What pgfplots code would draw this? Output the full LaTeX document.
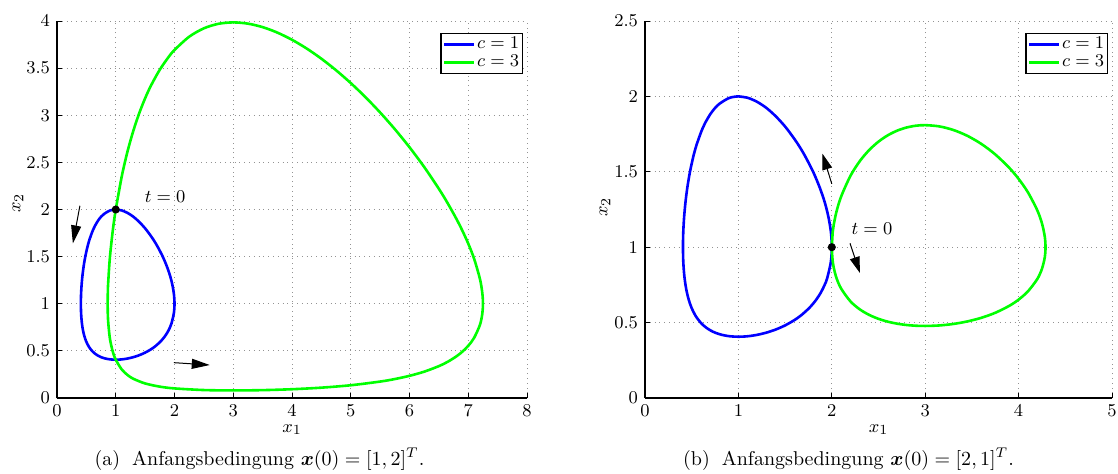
\documentclass[border=0pt]{standalone}
\usepackage{pgfplots}
\pgfplotsset{compat=1.18}
\usepackage{bm}
\usetikzlibrary{arrows.meta}
\definecolor{cblue}{RGB}{0,0,255}
\definecolor{cgreen}{RGB}{0,255,0}
\pgfplotstableread{
x y
1 2
1.1 1.9906
1.2 1.964
1.3 1.9234
1.4 1.868
1.5 1.8002
1.6 1.7175
1.6606 1.6606
1.7175 1.6
1.8002 1.5
1.868 1.4
1.9234 1.3
1.964 1.2
1.9906 1.1
2 1
1.9892 0.9
1.95 0.7934
1.9233 0.75
1.8832 0.7
1.8309 0.65
1.7631 0.6
1.6747 0.55
1.6 0.5168
1.5 0.4815
1.4 0.4542
1.3 0.4336
1.2 0.4188
1.1 0.4096
1 0.4064
0.9 0.4101
0.816 0.42
0.75 0.4336
0.7 0.4486
0.65 0.4691
0.6 0.4971
0.5432 0.5432
0.4971 0.6
0.4691 0.65
0.4486 0.7
0.4336 0.75
0.42 0.816
0.4101 0.9
0.4064 1
0.4096 1.1
0.4188 1.2
0.4336 1.3
0.4542 1.4
0.4815 1.5
0.5168 1.6
0.55 1.6747
0.6 1.7631
0.6256 1.8
0.65 1.8309
0.7 1.8832
0.75 1.9233
0.8 1.9525
0.9 1.9892
1 2
1.1 1.9906
}\blueorbit
\pgfplotsset{
  phase/.style={
    scale only axis, height=188.5pt,
    axis x line=bottom, axis y line=left,
    axis line style={-, black, line width=0.6pt},
    tick align=inside, major tick length=2.5pt,
    tick style={black, line width=0.5pt},
    grid=major, grid style={dotted, gray!85, line width=0.5pt},
    font=\fontsize{9.5}{10}\selectfont,
    legend style={anchor=north east, at={(axis description cs:0.992,0.968)},
      draw=black, line width=0.6pt, inner sep=1pt, row sep=0pt,
      nodes={inner sep=0.8pt},
      font=\fontsize{9.5}{10}\selectfont, fill=white},
    legend cell align=left,
    legend image code/.code={\draw[#1] (0pt,0pt) -- (15pt,0pt);},
    xlabel={$x_1$}, ylabel={$x_2$},
    x label style={at={(axis description cs:0.5,-0.084)}, anchor=center},
  },
  orbit/.style={line width=1.3pt, smooth, no marks},
}
\tikzset{arr/.style={line width=0.5pt, black, -{Triangle[length=#1, width=5pt]}}}
\begin{document}
\begin{tikzpicture}
\path[use as bounding box] (-28.5pt,-37.5pt) rectangle (530.5pt,199pt);

% ---------- left ----------
\begin{axis}[phase, at={(0pt,0pt)}, width=235pt,
  xmin=0, xmax=8, ymin=0, ymax=4,
  xtick={0,1,...,8}, ytick={0,0.5,...,4},
  y label style={at={(axis description cs:-0.083,0.517)}, anchor=center}]
\addplot[orbit, cblue] table[x=x, y=y] {\blueorbit};
\addlegendentry{$c=1$}
\addplot[orbit, cgreen] coordinates {
(1,2) (1.1,2.3451) (1.2,2.6151) (1.3,2.8365) (1.4,3.0223) (1.5,3.1802) (1.6,3.3155)
(1.75,3.4838) (1.9,3.6185) (2,3.6926) (2.25,3.8334) (2.5,3.9224) (2.75,3.9706)
(3,3.9853) (3.25,3.9721) (3.5,3.9351) (3.75,3.8772) (4,3.801) (4.25,3.7081)
(4.5,3.6) (4.75,3.4776) (5,3.3416) (5.25,3.1923) (5.5,3.0295) (5.75,2.8527)
(6,2.6607) (6.25,2.4512) (6.5,2.2196) (6.65,2.0666) (6.8,1.899) (6.9,1.7755)
(7,1.6382) (7.1,1.4775) (7.2,1.261) (7.24,1.1105) (7.25,1) (7.24,0.8968)
(7.2,0.7778) (7.1,0.6385) (7,0.554) (6.9,0.4919) (6.8,0.4426) (6.65,0.3842)
(6.5,0.3382) (6.25,0.2794) (6,0.2353) (5.75,0.2012) (5.5,0.1744) (5,0.1354)
(4.5,0.1098) (4,0.0932) (3.5,0.0836) (3,0.0803) (2.5,0.0845) (2,0.1018)
(1.75,0.1206) (1.5,0.1543) (1.3,0.2039) (1.2,0.2442) (1.1,0.3049) (1,0.4064)
(0.95,0.4904) (0.9,0.6322) (0.87,0.8172) (0.865,0.888) (0.8625,1) (0.865,1.121)
(0.87,1.2085) (0.9,1.4886) (0.95,1.7791) (1,2) (1.1,2.3451)};
\addlegendentry{$c=3$}
\addplot[only marks, mark=*, mark size=1.8pt, black, forget plot] coordinates {(1,2)};
\draw[arr=9pt] (axis cs:0.39,2.04) -- (axis cs:0.27,1.64);
\draw[arr=9pt] (axis cs:1.99,0.375) -- (axis cs:2.6,0.35);
\node[font=\fontsize{9.5}{10}\selectfont] at (axis cs:1.84,2.14) {$t=0$};
\end{axis}

% ---------- right ----------
\begin{axis}[phase, at={(294pt,0pt)}, width=233.5pt,
  xmin=0, xmax=5, ymin=0, ymax=2.5,
  xtick={0,1,...,5}, ytick={0,0.5,...,2.5},
  y label style={at={(axis description cs:-0.0857,0.507)}, anchor=center}]
\addplot[orbit, cblue] table[x=x, y=y] {\blueorbit};
\addlegendentry{$c=1$}
\addplot[orbit, cgreen] coordinates {
(2,1) (2.01,1.103) (2.02,1.147) (2.05,1.2358) (2.1,1.3362) (2.2,1.4737) (2.3,1.571)
(2.4,1.6443) (2.5,1.7001) (2.6,1.7423) (2.7,1.773) (2.8,1.7937) (2.9,1.8056)
(3,1.8093) (3.15,1.8012) (3.3,1.7776) (3.45,1.739) (3.6,1.6853) (3.75,1.6154)
(3.9,1.5264) (4,1.4532) (4.1,1.3638) (4.2,1.2448) (4.25,1.1583) (4.28,1.0711)
(4.2881,1) (4.28,0.932) (4.25,0.8568) (4.2,0.789) (4.1,0.7075) (4,0.6525)
(3.9,0.6113) (3.75,0.5651) (3.6,0.5317) (3.45,0.5076) (3.3,0.491) (3.15,0.4811)
(3,0.4778) (2.9,0.4793) (2.8,0.4842) (2.7,0.4929) (2.6,0.5061) (2.5,0.5249)
(2.4,0.5511) (2.3,0.5876) (2.2,0.6406) (2.1,0.7256) (2.05,0.7957) (2.02,0.866)
(2.01,0.9036) (2,1) (2.01,1.103)};
\addlegendentry{$c=3$}
\addplot[only marks, mark=*, mark size=1.8pt, black, forget plot] coordinates {(2,1)};
\draw[arr=8pt] (axis cs:2.0,1.42) -- (axis cs:1.90,1.62);
\draw[arr=8pt] (axis cs:2.195,1.026) -- (axis cs:2.30,0.83);
\node[font=\fontsize{9.5}{10}\selectfont] at (axis cs:2.43,1.12) {$t=0$};
\end{axis}

\node[anchor=base, font=\fontsize{10}{12}\selectfont] at (101.25pt,-33.5pt)
  {(a)\hspace{0.6em}Anfangsbedingung $\bm{x}(0) = [1,2]^T$.};
\node[anchor=base, font=\fontsize{10}{12}\selectfont] at (395.75pt,-33.5pt)
  {(b)\hspace{0.6em}Anfangsbedingung $\bm{x}(0) = [2,1]^T$.};
\end{tikzpicture}
\end{document}
